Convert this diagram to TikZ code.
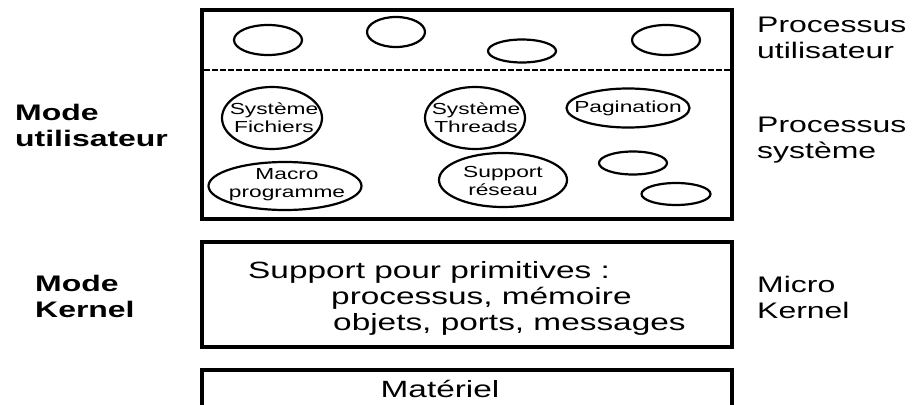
\documentclass[tikz,border=0pt]{standalone}
\usepackage{fontspec}
\setmainfont{Liberation Sans}[FakeStretch=1.42]
\usetikzlibrary{shapes.geometric}

\begin{document}
\begin{tikzpicture}[x=1pt, y=-1pt,
  frame/.style={line width=3.2pt},
  proc/.style={draw, ellipse, line width=2.2pt, inner sep=0pt},
  etxt/.style={font=\fontsize{16}{18}\selectfont, align=center, inner sep=0pt},
  lbl/.style={font=\fontsize{22.5}{26}\selectfont, align=left, anchor=base west, inner sep=0pt},
  modelbl/.style={lbl, font=\fontsize{22.5}{26}\selectfont\bfseries},
  ktxt/.style={font=\fontsize{23.5}{26}\selectfont, anchor=base west, inner sep=0pt}]

\useasboundingbox (0,0) rectangle (912,404);
\clip (0,0) rectangle (912,404);

% user-space box with its two layers of processes
\draw[frame] (202,10) rectangle (732,219);
\draw[line width=2.6pt, dash pattern=on 6pt off 2pt] (204,70) -- (730,70);

% user processes
\node[proc, minimum width=68pt, minimum height=30pt] (u1) at (268,40) {};
\node[proc, minimum width=58pt, minimum height=30pt] (u2) at (396,32) {};
\node[proc, minimum width=68pt, minimum height=23pt] (u3) at (522,51) {};
\node[proc, minimum width=68pt, minimum height=30pt] (u4) at (666,40) {};

% system processes
\node[proc, minimum width=100pt, minimum height=62pt] (sf) at (272,118) {};
\node[etxt] at (274,118) {Système\\Fichiers};
\node[proc, minimum width=100pt, minimum height=62pt] (st) at (475,118) {};
\node[etxt] at (476,118) {Système\\Threads};
\node[proc, minimum width=123pt, minimum height=39pt] (pg) at (628,108) {};
\node[etxt] at (pg) {Pagination};
\node[proc, minimum width=153pt, minimum height=48pt] (mp) at (285,186) {};
\node[etxt] at (287,185) {Macro\\programme};
\node[proc, minimum width=128pt, minimum height=54pt] (sr) at (503,180) {};
\node[etxt] at (503,181) {Support\\réseau};
\node[proc, minimum width=68pt, minimum height=23pt] (s1) at (633,163) {};
\node[proc, minimum width=69pt, minimum height=22pt] (s2) at (676,194) {};

% micro-kernel box
\draw[frame] (202,242) rectangle (732,347);
\node[ktxt] (k1) at (248,278) {Support pour primitives :};
\node[ktxt] (k2) at (331,304) {processus, mémoire};
\node[ktxt] (k3) at (333,330) {objets, ports, messages};

% hardware box, open at the bottom
\draw[frame] (202,410) -- (202,370) -- (732,370) -- (732,410);
\node[ktxt, anchor=base] (hw) at (440,397) {Matériel};

% mode labels on the left (anchored on the last line)
\node[modelbl] (mu) at (15,146) {Mode\\utilisateur};
\node[modelbl] (mk) at (35,317) {Mode\\Kernel};

% layer labels on the right (anchored on the last line)
\node[lbl] (pu) at (757,59) {Processus\\utilisateur};
\node[lbl] (ps) at (757,158) {Processus\\système};
\node[lbl] (mc) at (757,318) {Micro\\Kernel};
\end{tikzpicture}
\end{document}
